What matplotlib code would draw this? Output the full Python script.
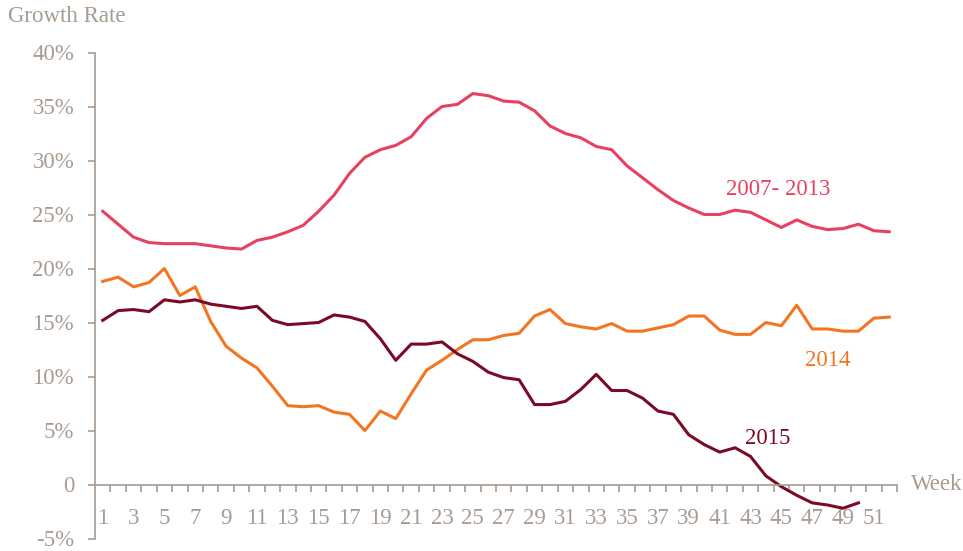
import matplotlib
matplotlib.use("Agg")
import matplotlib.pyplot as plt
from matplotlib.ticker import FixedLocator, FuncFormatter

# weekly growth rates (%)
weeks = list(range(1, 53))

avg_2007_2013 = [25.3, 24.1, 22.9, 22.4, 22.3, 22.3, 22.3, 22.1, 21.9, 21.8,
                 22.6, 22.9, 23.4, 24.0, 25.3, 26.8, 28.8, 30.3, 31.0, 31.4,
                 32.2, 33.9, 35.0, 35.2, 36.2, 36.0, 35.5, 35.4, 34.6, 33.2,
                 32.5, 32.1, 31.3, 31.0, 29.5, 28.4, 27.3, 26.3, 25.6, 25.0,
                 25.0, 25.4, 25.2, 24.5, 23.8, 24.5, 23.9, 23.6, 23.7, 24.1,
                 23.5, 23.4]

rate_2014 = [18.8, 19.2, 18.3, 18.7, 20.0, 17.5, 18.3, 15.1, 12.8, 11.7,
             10.8, 9.1, 7.3, 7.2, 7.3, 6.7, 6.5, 5.0, 6.8, 6.1,
             8.4, 10.6, 11.5, 12.5, 13.4, 13.4, 13.8, 14.0, 15.6, 16.2,
             14.9, 14.6, 14.4, 14.9, 14.2, 14.2, 14.5, 14.8, 15.6, 15.6,
             14.3, 13.9, 13.9, 15.0, 14.7, 16.6, 14.4, 14.4, 14.2, 14.2,
             15.4, 15.5]

weeks_2015 = list(range(1, 51))
rate_2015 = [15.2, 16.1, 16.2, 16.0, 17.1, 16.9, 17.1, 16.7, 16.5, 16.3,
             16.5, 15.2, 14.8, 14.9, 15.0, 15.7, 15.5, 15.1, 13.5, 11.5,
             13.0, 13.0, 13.2, 12.1, 11.4, 10.4, 9.9, 9.7, 7.4, 7.4,
             7.7, 8.8, 10.2, 8.7, 8.7, 8.0, 6.8, 6.5, 4.6, 3.7,
             3.0, 3.4, 2.6, 0.8, -0.2, -1.0, -1.7, -1.9, -2.2, -1.7]

y_ticks = [-5, 0, 5, 10, 15, 20, 25, 30, 35, 40]

c_pink = "#e8405f"
c_orange = "#f47521"
c_dark = "#7b0a26"
c_grey = "#a89b90"

plt.rcParams['font.family'] = ['Liberation Serif', 'DejaVu Serif']
fs = 16.5

fig = plt.figure(figsize=(9.63, 5.51), dpi=100)
ax = fig.add_axes([95 / 963, 12.5 / 551, 802 / 963, 486 / 551])

ax.plot(weeks, avg_2007_2013, color=c_pink, lw=2.2)
ax.plot(weeks, rate_2014, color=c_orange, lw=2.2)
ax.plot(weeks_2015, rate_2015, color=c_dark, lw=2.2)

ax.set_xlim(0.5, 52.5)
ax.set_ylim(-5, 40)

# axes look
for s in ["top", "right"]:
    ax.spines[s].set_visible(False)
ax.spines["bottom"].set_position(("data", 0))
ax.spines["left"].set_color(c_grey)
ax.spines["bottom"].set_color(c_grey)
ax.spines["left"].set_linewidth(1.2)
ax.spines["bottom"].set_linewidth(1.2)

ax.yaxis.set_major_locator(FixedLocator(y_ticks))
ax.yaxis.set_major_formatter(FuncFormatter(lambda v, p: "0" if v == 0 else f"{v:.0f}%"))
ax.tick_params(axis="y", direction="out", length=5, width=1.2, color=c_grey,
               labelcolor=c_grey, labelsize=fs, pad=10)

ax.xaxis.set_major_locator(FixedLocator([w + 0.5 for w in weeks]))
ax.xaxis.set_minor_locator(FixedLocator(weeks[::2]))
ax.xaxis.set_major_formatter(FuncFormatter(lambda v, p: ""))
ax.xaxis.set_minor_formatter(FuncFormatter(lambda v, p: f"{v:.0f}"))
ax.tick_params(axis="x", which="major", direction="out", length=5, width=1.2,
               color=c_grey)
ax.tick_params(axis="x", which="minor", length=0, labelcolor=c_grey,
               labelsize=fs, pad=17)

fig.text(8 / 963, 1 - 17 / 551, "Growth Rate", color=c_grey, fontsize=fs,
         ha="left", va="center")
fig.text(911 / 963, 1 - 484.5 / 551, "Week", color=c_grey, fontsize=fs,
         ha="left", va="center")

# series labels
ax.text(44.8, 27.3, "2007- 2013", color=c_pink, fontsize=fs, ha="center", va="center")
ax.text(48.0, 11.5, "2014", color=c_orange, fontsize=fs, ha="center", va="center")
ax.text(44.1, 4.3, "2015", color=c_dark, fontsize=fs, ha="center", va="center")

fig.savefig("out.png", dpi=100)
